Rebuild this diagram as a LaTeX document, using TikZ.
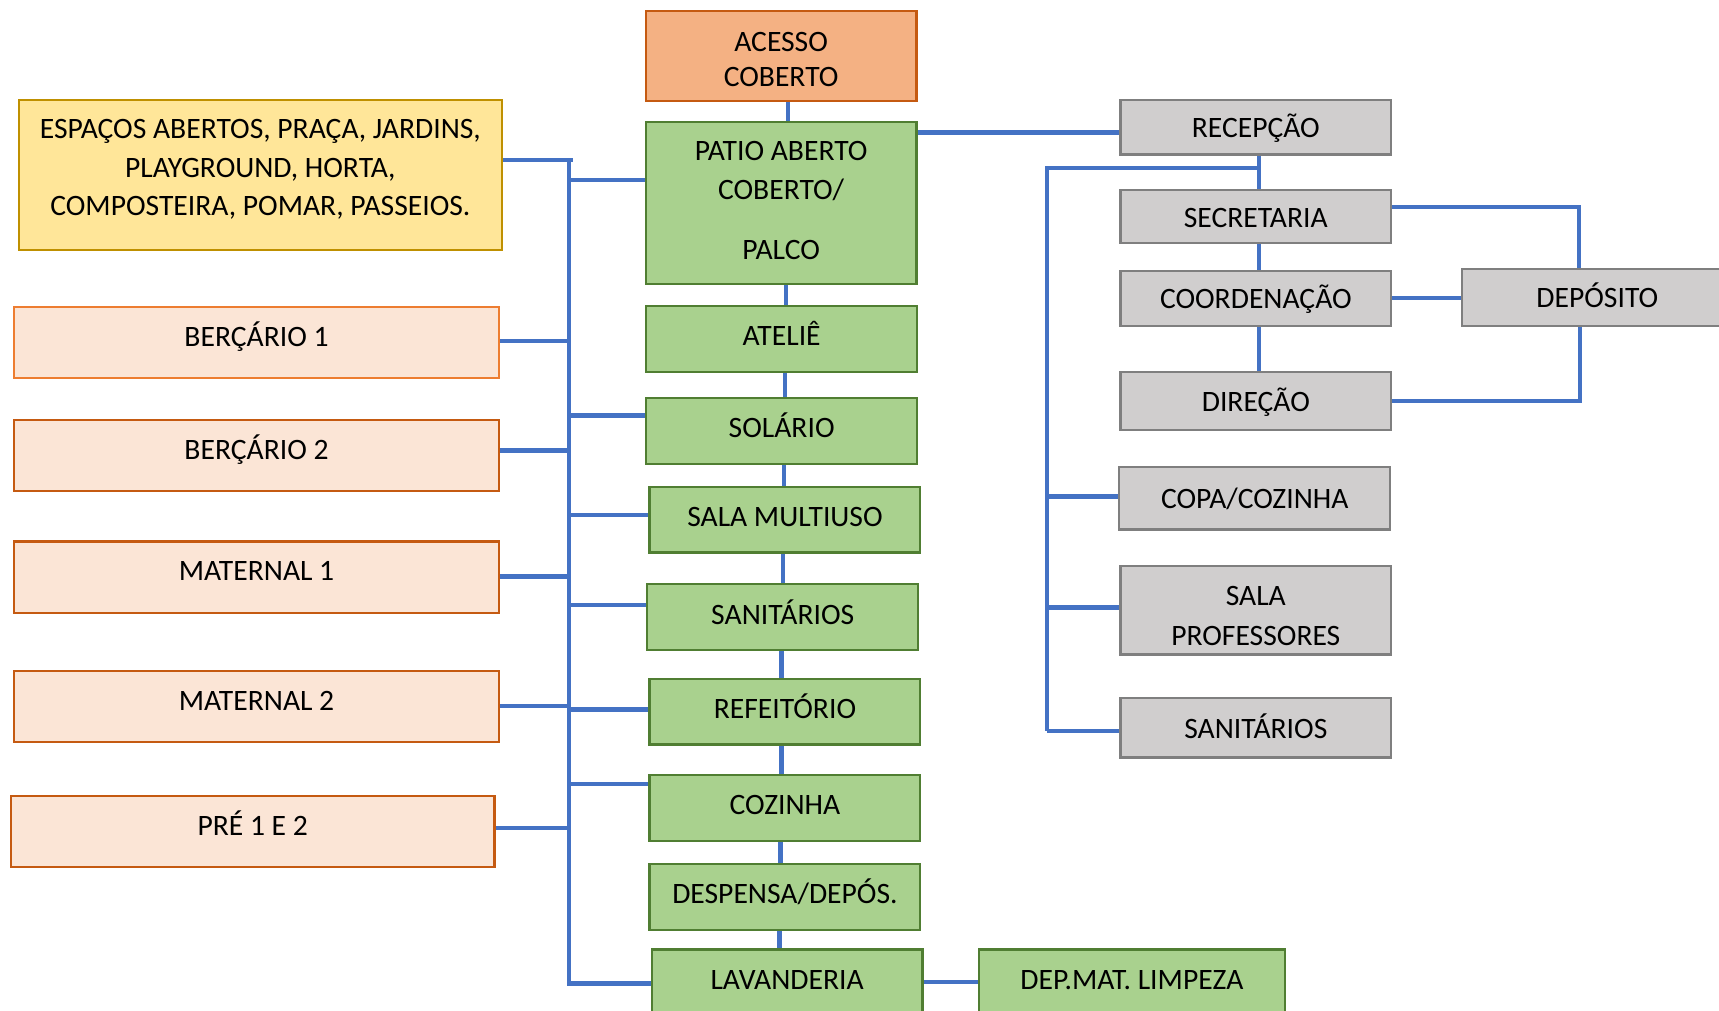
\documentclass[tikz,border=0pt]{standalone}
\usepackage{fontspec}
\setmainfont{Carlito}
\usepackage{tikz}
\definecolor{linkblue}{HTML}{4472C4}
\definecolor{greenfill}{HTML}{A9D18E}
\definecolor{greenline}{HTML}{507E32}
\definecolor{orangefill}{HTML}{F4B183}
\definecolor{orangeline}{HTML}{C55A11}
\definecolor{lightorange}{HTML}{ED7D31}
\definecolor{yellowfill}{HTML}{FFE699}
\definecolor{yellowline}{HTML}{BF9000}
\definecolor{peachfill}{HTML}{FBE5D6}
\definecolor{grayfill}{HTML}{D0CECE}
\definecolor{grayline}{HTML}{7F7F7F}

\tikzset{
  box/.style={draw, line width=2pt, minimum width=247pt, minimum height=60pt,
    inner sep=0pt, align=center, font=\fontsize{27}{35}\selectfont},
  greenbox/.style={box, fill=greenfill, draw=greenline, text height=16pt, text depth=3.6pt},
  graybox/.style={box, fill=grayfill, draw=grayline, minimum height=50pt, text height=20pt, text depth=0.6pt},
  peachbox/.style={box, fill=peachfill, draw=orangeline, minimum width=442pt, minimum height=65pt,
    text height=14pt, text depth=7.6pt},
  link/.style={draw=linkblue, line width=4pt},
}

\begin{document}
\begin{tikzpicture}[x=1pt, y=-1pt]
    \useasboundingbox (0,0) rectangle (1568,922);

    % central column
    \node[box, fill=orangefill, draw=orangeline, minimum height=82pt, font=\fontsize{27}{32}\selectfont] (acesso) at (712.5,51)
        {\rule{0pt}{23.4pt}ACESSO\\COBERTO};
    \node[box, fill=greenfill, draw=greenline, minimum height=148pt] (patio) at (712.5,185)
        {PATIO ABERTO\\COBERTO/\\[20pt]PALCO\rule[-4pt]{0pt}{4pt}};
    \node[greenbox] (atelie) at (713,309) {ATELIÊ};
    \node[greenbox] (solario) at (713,393) {SOLÁRIO};
    \node[greenbox] (multiuso) at (716,474) {SALA MULTIUSO};
    \node[greenbox] (sanit) at (714,563) {SANITÁRIOS};
    \node[greenbox] (refeitorio) at (716,649) {REFEITÓRIO};
    \node[greenbox] (cozinha) at (716,737) {COZINHA};
    \node[greenbox] (despensa) at (716,818) {DESPENSA/DEPÓS.};
    \node[greenbox] (lavanderia) at (718,896) {LAVANDERIA};
    \node[greenbox, minimum width=279pt] (limpeza) at (1032.5,896) {DEP.MAT. LIMPEZA};

    % left column
    \node[box, fill=yellowfill, draw=yellowline, minimum width=441pt, minimum height=137pt] (espacos) at (237.5,159.5)
        {ESPAÇOS ABERTOS, PRAÇA, JARDINS,\\PLAYGROUND, HORTA,\\COMPOSTEIRA, POMAR, PASSEIOS.\rule[-13pt]{0pt}{13pt}};
    \node[peachbox, draw=lightorange] (berc1) at (234,312.5) {BERÇÁRIO 1};
    \node[peachbox] (berc2) at (234,415.5) {BERÇÁRIO 2};
    \node[peachbox] (mat1) at (234,526.5) {MATERNAL 1};
    \node[peachbox] (mat2) at (234,644.5) {MATERNAL 2};
    \node[peachbox, minimum width=441pt] (pre) at (230.5,758.5) {PRÉ 1 E 2};

    % right column
    \node[graybox] (recepcao) at (1145.5,116) {RECEPÇÃO};
    \node[graybox, minimum height=49pt] (secretaria) at (1145.5,197.5) {SECRETARIA};
    \node[graybox] (coord) at (1145.5,272) {COORDENAÇÃO};
    \node[graybox, minimum height=53pt] (direcao) at (1145.5,365.5) {DIREÇÃO};
    \node[graybox, minimum height=52pt] (deposito) at (1457,271) {DEPÓSITO};
    \node[graybox, minimum height=57pt] (copa) at (1144.5,454.5) {COPA/COZINHA};
    \node[box, fill=grayfill, draw=grayline, minimum height=81pt, font=\fontsize{27}{36}\selectfont] (salaprof) at (1145.5,556.5)
        {\rule{0pt}{28.4pt}SALA\\PROFESSORES};
    \node[graybox, minimum height=54pt] (sanit2) at (1145.5,664) {SANITÁRIOS};

    % central chain
    \foreach \a/\b/\x in {acesso/patio/719, patio/atelie/717, atelie/solario/716, solario/multiuso/715,
        multiuso/sanit/714, sanit/refeitorio/713, refeitorio/cozinha/713, cozinha/despensa/712, despensa/lavanderia/711}
        \draw[link] (\a.south -| \x,0) -- (\b.north -| \x,0);
    \draw[link] (lavanderia.east) -- (limpeza.west);

    % left bus
    \coordinate (lbtop) at (519,146);
    \coordinate (lbbot) at (519,899);
    \draw[link] (espacos.east |- lbtop) -- ([xshift=4pt]lbtop);
    \draw[link] (lbtop) -- (lbbot);
    \foreach \n/\y in {berc1/311, berc2/411, mat1/526, mat2/644, pre/755}
        \draw[link] (\n.east |- 0,\y) -- (lbtop |- 0,\y);
    \foreach \n/\y in {patio/164, solario/379, multiuso/470, sanit/552, refeitorio/647, cozinha/715, lavanderia/897}
        \draw[link] (lbtop |- 0,\y) -- (\n.west |- 0,\y);

    % right side
    \draw[link] (patio.east |- 0,121) -- (recepcao.west |- 0,121);
    \foreach \a/\b in {recepcao/secretaria, secretaria/coord, coord/direcao}
        \draw[link] ([xshift=3pt]\a.south) -- ([xshift=3pt]\b.north);
    \coordinate (rbtop) at (955,153);
    \coordinate (rbbot) at (955,667);
    \draw[link] ([xshift=3pt]recepcao.south |- rbtop) -- (rbtop) -- (rbbot);
    \foreach \n/\y in {copa/453, salaprof/554, sanit2/667}
        \draw[link] (rbtop |- 0,\y) -- (\n.west |- 0,\y);

    % deposito
    \draw[link] (secretaria.east |- 0,189) -| ([xshift=-17pt]deposito.north);
    \draw[link] (coord.east) -- (coord.east -| deposito.west);
    \draw[link] ([xshift=-16pt]deposito.south) |- (direcao.east);
\end{tikzpicture}
\end{document}
